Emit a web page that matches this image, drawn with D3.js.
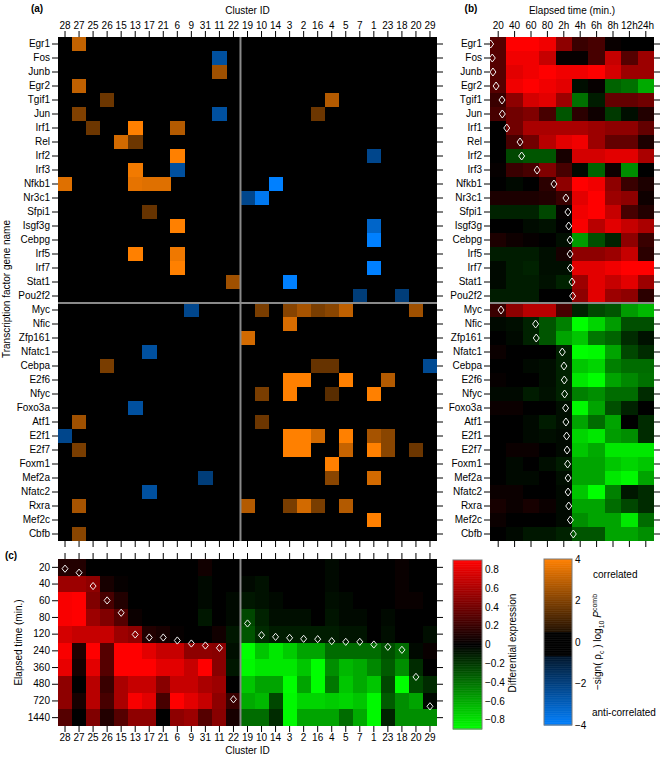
<!DOCTYPE html>
<html><head><meta charset="utf-8">
<script src="https://cdn.jsdelivr.net/npm/d3@7"></script>
<style>
body{margin:0;background:#fff}
text{font-family:"Liberation Sans",Arial,Helvetica,sans-serif;font-size:10px;fill:#000}
</style>
</head><body>
<svg id="chart" width="662" height="757"></svg>
<script>
// ---------------- DATA ----------------
const clusters = ["28","27","25","26","15","13","17","21","6","9","31","11","22","19","10","14","3","2","16","4","5","7","1","23","18","20","29"];
const tfs = ["Egr1","Fos","Junb","Egr2","Tgif1","Jun","Irf1","Rel","Irf2","Irf3","Nfkb1","Nr3c1","Sfpi1","Isgf3g","Cebpg","Irf5","Irf7","Stat1","Pou2f2",
             "Myc","Nfic","Zfp161","Nfatc1","Cebpa","E2f6","Nfyc","Foxo3a","Atf1","E2f1","E2f7","Foxm1","Mef2a","Nfatc2","Rxra","Mef2c","Cbfb"];
const timeLabelsB = ["20","40","60","80","2h","4h","6h","8h","12h","24h"];
const timeLabelsC = ["20","40","60","80","120","240","360","480","720","1440"];
const exprTicks = [0.8,0.6,0.4,0.2,0,-0.2,-0.4,-0.6,-0.8];
const assocTicks = [4,2,0,-2,-4];

// (a) association: [TF, cluster, -sign(rho) log10 P]
const assocCells = [
 ["Egr1","27",3.05],["Fos","11",-2.5],["Junb","11",2.5],["Egr2","27",3.0],
 ["Tgif1","26",1.7],["Tgif1","4",2.8],
 ["Jun","27",2.0],["Jun","11",-2.5],["Jun","16",1.7],
 ["Irf1","25",1.7],["Irf1","13",4.0],["Irf1","6",2.8],
 ["Rel","15",3.3],["Rel","13",1.7],
 ["Irf2","6",4.0],["Irf2","1",-2.2],
 ["Irf3","13",3.8],["Irf3","6",-2.5],
 ["Nfkb1","28",3.5],["Nfkb1","13",3.6],["Nfkb1","17",3.5],["Nfkb1","21",3.5],["Nfkb1","14",-4.0],
 ["Nr3c1","19",-2.2],["Nr3c1","10",-3.75],
 ["Sfpi1","17",1.6],
 ["Isgf3g","6",4.0],["Isgf3g","1",-3.15],
 ["Cebpg","1",-4.0],
 ["Irf5","13",4.0],["Irf5","6",3.75],
 ["Irf7","6",4.0],["Irf7","1",-4.0],
 ["Stat1","22",2.5],["Stat1","3",-4.0],
 ["Pou2f2","7",-1.9],["Pou2f2","18",-1.9],
 ["Myc","9",-2.2],["Myc","10",1.9],["Myc","3",2.1],["Myc","2",2.6],["Myc","16",1.9],["Myc","4",2.15],["Myc","5",3.0],["Myc","20",2.5],
 ["Nfic","3",3.4],
 ["Zfp161","19",3.3],
 ["Nfatc1","17",-2.5],
 ["Cebpa","26",1.9],["Cebpa","16",1.6],["Cebpa","4",1.6],["Cebpa","29",-2.3],
 ["E2f6","3",4.0],["E2f6","2",4.0],["E2f6","5",4.0],["E2f6","23",2.8],
 ["Nfyc","10",1.9],["Nfyc","3",4.0],["Nfyc","4",1.4],["Nfyc","1",4.0],
 ["Foxo3a","13",-2.5],
 ["Atf1","27",2.5],["Atf1","10",1.7],
 ["E2f1","28",-2.2],["E2f1","3",4.0],["E2f1","2",4.0],["E2f1","16",3.3],["E2f1","5",4.0],["E2f1","1",2.6],["E2f1","23",2.15],
 ["E2f7","27",1.9],["E2f7","3",4.0],["E2f7","2",4.0],["E2f7","5",3.1],["E2f7","1",4.0],["E2f7","23",2.15],["E2f7","20",1.7],
 ["Foxm1","4",4.0],
 ["Mef2a","31",-1.9],["Mef2a","4",2.15],["Mef2a","1",3.3],
 ["Nfatc2","17",-2.5],
 ["Rxra","27",2.6],["Rxra","19",2.8],["Rxra","3",1.9],["Rxra","2",3.3],["Rxra","16",1.9],["Rxra","5",2.8],
 ["Mef2c","1",4.0],
 ["Cbfb","27",2.15]
];

// (b) differential expression of each TF over time (rows follow tfs)
const exprByTF = [
 [0.30,0.90,0.90,0.85,0.50,0.20,0.25,0.03,0.00,0.00],
 [0.30,0.85,0.85,0.70,0.02,0.02,0.25,0.70,0.30,0.55],
 [0.30,0.80,0.85,0.90,0.85,0.85,0.90,0.75,0.55,0.55],
 [0.30,0.85,0.90,0.85,0.80,-0.05,0.02,-0.35,-0.40,-0.60],
 [0.20,0.50,0.75,0.80,0.55,-0.40,-0.10,0.35,0.35,0.40],
 [0.25,0.40,0.45,0.25,-0.30,0.15,0.05,-0.20,-0.05,0.12],
 [0.00,0.40,0.60,0.60,0.60,0.60,0.55,0.50,0.50,0.35],
 [0.00,0.25,0.40,0.65,0.80,0.85,0.55,0.35,0.35,0.10],
 [0.00,-0.25,-0.30,-0.30,0.08,0.75,0.75,0.80,0.80,0.60],
 [0.02,0.20,0.25,0.45,0.25,-0.03,-0.35,0.05,-0.50,0.00],
 [0.00,-0.03,0.00,0.15,0.50,0.90,0.85,0.50,0.20,0.10],
 [0.10,0.10,0.10,0.12,0.20,0.80,0.90,0.55,0.50,0.05],
 [-0.12,-0.12,-0.12,-0.25,0.02,0.85,0.90,0.70,0.25,0.12],
 [0.00,0.00,-0.04,-0.06,0.00,0.88,0.65,0.80,0.70,0.60],
 [0.10,0.05,0.02,0.00,-0.05,-0.55,-0.28,-0.12,0.50,0.20],
 [-0.10,-0.10,-0.10,-0.05,0.08,0.50,0.50,0.55,0.70,0.15],
 [-0.03,-0.10,-0.12,-0.05,-0.05,0.80,0.80,0.85,0.90,0.90],
 [-0.03,-0.10,-0.10,-0.06,-0.12,0.55,0.80,0.70,0.80,0.55],
 [-0.10,-0.10,-0.10,0.00,0.00,0.50,0.80,0.55,0.50,0.15],
 [0.20,0.50,0.65,0.65,0.25,-0.12,-0.25,-0.30,-0.55,-0.65],
 [-0.03,-0.05,-0.12,-0.30,-0.45,-0.90,-0.75,-0.55,-0.28,-0.28],
 [0.00,-0.03,-0.12,-0.30,-0.58,-0.70,-0.42,-0.35,-0.15,-0.06],
 [0.04,0.00,0.00,0.00,-0.12,-0.90,-0.88,-0.58,-0.25,-0.15],
 [0.00,0.00,-0.03,-0.05,-0.12,-0.70,-0.75,-0.45,-0.38,-0.38],
 [0.02,0.00,0.00,-0.05,-0.12,-0.82,-0.90,-0.58,-0.48,-0.40],
 [-0.03,-0.03,-0.10,-0.06,-0.12,-0.45,-0.50,-0.38,-0.38,-0.15],
 [0.04,0.04,0.00,0.00,-0.05,-0.88,-0.58,-0.28,-0.12,0.00],
 [0.00,0.00,-0.03,-0.10,-0.05,-0.58,-0.38,-0.58,0.00,-0.15],
 [0.00,0.00,-0.03,-0.05,-0.03,-0.75,-0.82,-0.55,-0.50,-0.15],
 [0.00,0.04,0.04,0.00,-0.03,-0.70,-0.60,-0.82,-0.82,-0.82],
 [0.00,-0.03,0.00,-0.05,-0.10,-0.58,-0.58,-0.70,-0.75,-0.70],
 [0.00,-0.03,-0.03,0.00,-0.05,-0.58,-0.58,-0.82,-0.88,-0.58],
 [0.04,0.04,0.00,0.00,-0.03,-0.70,-0.90,-0.45,-0.08,-0.15],
 [0.08,0.04,0.08,0.04,-0.03,-0.58,-0.58,-0.38,-0.25,-0.15],
 [0.04,0.00,0.00,0.00,-0.03,-0.50,-0.58,-0.58,-0.82,-0.38],
 [0.00,-0.03,-0.08,-0.08,-0.12,-0.30,-0.30,-0.58,-0.58,-0.50]
];
// onset time of each TF, in units of time-column index
const onsetByTF = [0.04,0.14,0.18,0.37,0.73,0.75,1.02,1.83,1.93,2.87,3.90,4.63,4.75,4.80,4.88,4.88,4.90,5.00,5.04,
                   0.67,2.78,2.82,4.41,4.51,4.53,4.55,4.61,4.63,4.67,4.70,4.73,4.76,4.76,4.80,4.90,5.08];

// (c) differential expression of each cluster over time (one array per cluster, rows follow timeLabelsC)
const exprByCluster = [
 [0.12,0.55,0.88,0.88,0.75,0.88,0.82,0.50,0.50,0.30],
 [0.12,0.55,0.90,0.90,0.70,0.12,0.08,0.00,0.08,0.00],
 [0.00,0.50,0.45,0.55,0.70,0.90,0.80,0.65,0.65,0.45],
 [0.00,0.08,0.25,0.45,0.70,0.30,0.30,0.20,0.25,0.12],
 [0.00,0.02,0.12,0.30,0.55,0.90,0.90,0.60,0.60,0.30],
 [0.00,0.00,0.00,0.04,0.50,0.90,0.90,0.70,0.88,0.50],
 [0.00,0.00,0.00,0.00,0.12,0.80,0.90,0.70,0.80,0.50],
 [0.00,0.00,0.00,0.00,0.08,0.70,0.80,0.48,0.25,0.00],
 [0.00,0.00,0.00,0.00,0.02,0.70,0.80,0.70,0.90,0.50],
 [0.00,0.00,0.00,0.00,0.00,0.50,0.70,0.70,0.80,0.55],
 [0.06,-0.03,-0.03,-0.08,0.00,0.50,0.90,0.60,0.70,0.30],
 [0.00,0.00,0.00,0.00,0.06,0.48,0.48,0.55,0.50,0.48],
 [0.00,0.00,-0.03,-0.03,-0.08,-0.05,-0.08,0.00,0.20,0.08],
 [0.00,-0.03,-0.08,-0.25,-0.30,-0.90,-0.88,-0.70,-0.60,-0.38],
 [0.00,-0.06,-0.06,-0.12,-0.15,-0.70,-0.82,-0.58,-0.65,-0.38],
 [0.00,0.00,-0.03,-0.05,-0.10,-0.82,-0.82,-0.58,-0.25,-0.15],
 [0.00,0.00,0.00,-0.05,-0.10,-0.72,-0.82,-0.90,-0.88,-0.88],
 [0.00,0.00,0.00,-0.05,-0.10,-0.58,-0.70,-0.58,-0.75,-0.58],
 [0.00,0.00,0.00,0.00,-0.10,-0.58,-0.90,-0.90,-0.75,-0.58],
 [-0.03,-0.03,-0.05,-0.07,-0.10,-0.38,-0.50,-0.42,-0.72,-0.58],
 [0.00,0.00,-0.03,-0.03,-0.07,-0.38,-0.65,-0.70,-0.75,-0.38],
 [0.00,0.00,0.00,-0.03,-0.07,-0.38,-0.60,-0.60,-0.70,-0.60],
 [0.00,0.00,0.00,0.00,0.00,-0.38,-0.48,-0.70,-0.88,-0.88],
 [0.00,0.00,0.00,-0.03,-0.05,-0.28,-0.32,-0.25,-0.32,-0.12],
 [0.03,0.03,0.03,0.00,0.00,-0.38,-0.50,-0.90,-0.50,-0.50],
 [0.00,0.00,0.03,0.00,0.00,-0.03,-0.15,-0.25,-0.58,-0.50],
 [0.00,0.00,0.00,0.00,-0.05,0.03,0.00,-0.15,-0.03,-0.50]
];
// onset time of each cluster, in units of time-row index
const onsetByCluster = [0.58,0.82,1.62,2.48,3.22,4.52,4.70,4.70,4.88,5.06,5.18,5.32,8.40,
                        3.86,4.56,4.66,4.72,4.78,4.80,4.92,4.96,4.96,5.12,5.26,5.44,7.06,8.82];

// ---------------- COLOURS ----------------
const exprColor = d3.scaleLinear().domain([-0.9,0,0.9]).range(["#00ff00","#000000","#ff0000"]).clamp(true);
const posRamp = d3.interpolateRgb("#000000","#ff8000");
const negRamp = d3.interpolateRgb("#000000","#0080ff");
function assocColor(v){
  if (v >= 0.5) return posRamp(Math.min(v,4)/4);
  if (v <= -0.67) return negRamp(Math.min(-v,4)/4);
  return "#000000";
}

// ---------------- LAYOUT ----------------
const svg = d3.select("#chart");
svg.append("rect").attr("width",662).attr("height",757).attr("fill","#fff");

const xA = d3.scaleBand().domain(clusters).range([58,437]);
const yA = d3.scaleBand().domain(tfs).range([37,541]);
const xB = d3.scaleBand().domain(timeLabelsB).range([490,654]);
const yC = d3.scaleBand().domain(timeLabelsC).range([559,726]);
const xBpos = d3.scaleLinear().domain([0,timeLabelsB.length]).range(xB.range());
const yCpos = d3.scaleLinear().domain([0,timeLabelsC.length]).range(yC.range());
const sepCluster = "19", sepTF = "Myc";
const gray = "#8a8a8a";

function styleAxis(g){
  g.select(".domain").remove();
  g.selectAll(".tick line").attr("stroke","#000");
  g.selectAll("text").style("font-size","10px").attr("fill","#000");
}
function diamond(cx, cy, w, h){
  return `M${cx},${cy-h}L${cx+w},${cy}L${cx},${cy+h}L${cx-w},${cy}Z`;
}

// ---- panel (a)
const gA = svg.append("g");
gA.append("rect").attr("x",xA.range()[0]).attr("y",yA.range()[0])
  .attr("width",xA.range()[1]-xA.range()[0]).attr("height",yA.range()[1]-yA.range()[0]).attr("fill","#000");
gA.selectAll("rect.cell").data(assocCells).join("rect").attr("class","cell")
  .attr("x",d=>xA(d[1])).attr("y",d=>yA(d[0]))
  .attr("width",xA.bandwidth()+0.3).attr("height",yA.bandwidth()+0.3)
  .attr("fill",d=>assocColor(d[2])).attr("shape-rendering","crispEdges");
gA.append("line").attr("x1",xA(sepCluster)).attr("x2",xA(sepCluster))
  .attr("y1",yA.range()[0]).attr("y2",yA.range()[1]).attr("stroke",gray).attr("stroke-width",2);

gA.append("g").attr("transform",`translate(0,${yA.range()[0]})`)
  .call(d3.axisTop(xA).tickSize(6).tickPadding(2)).call(styleAxis);
gA.append("g").attr("transform",`translate(0,${yA.range()[1]})`)
  .call(d3.axisBottom(xA).tickSize(6).tickFormat("")).call(styleAxis);
gA.append("g").attr("transform",`translate(${xA.range()[0]},0)`)
  .call(d3.axisLeft(yA).tickSize(6).tickPadding(2)).call(styleAxis);
gA.append("g").attr("transform",`translate(${xA.range()[1]},0)`)
  .call(d3.axisRight(yA).tickSize(6).tickFormat("")).call(styleAxis);

// ---- panel (b)
const gB = svg.append("g");
const cellsB = [];
tfs.forEach((tf,i)=>timeLabelsB.forEach((t,j)=>cellsB.push({tf,t,v:exprByTF[i][j]})));
gB.selectAll("rect").data(cellsB).join("rect")
  .attr("x",d=>xB(d.t)).attr("y",d=>yA(d.tf))
  .attr("width",xB.bandwidth()+0.3).attr("height",yA.bandwidth()+0.3)
  .attr("fill",d=>exprColor(d.v)).attr("shape-rendering","crispEdges");
gB.selectAll("path.dia").data(tfs).join("path").attr("class","dia")
  .attr("d",(tf,i)=>diamond(xBpos(onsetByTF[i]), yA(tf)+yA.bandwidth()/2, 3, 4))
  .attr("fill","none").attr("stroke","#f2f2f2").attr("stroke-width",1);

gB.append("g").attr("transform",`translate(0,${yA.range()[0]})`)
  .call(d3.axisTop(xB).tickSize(6).tickPadding(2)).call(styleAxis);
gB.append("g").attr("transform",`translate(0,${yA.range()[1]})`)
  .call(d3.axisBottom(xB).tickSize(6).tickFormat("")).call(styleAxis);
gB.append("g").attr("transform",`translate(${xB.range()[0]},0)`)
  .call(d3.axisLeft(yA).tickSize(6).tickPadding(2)).call(styleAxis);
gB.append("g").attr("transform",`translate(${xB.range()[1]},0)`)
  .call(d3.axisRight(yA).tickSize(6).tickFormat("")).call(styleAxis);

// horizontal separator across (a) and (b)
[[xA.range()[0],xA.range()[1]],[xB.range()[0],xB.range()[1]]].forEach(r=>{
  svg.append("line").attr("x1",r[0]).attr("x2",r[1]).attr("y1",yA(sepTF)).attr("y2",yA(sepTF))
    .attr("stroke",gray).attr("stroke-width",2);
});

// ---- panel (c)
const gC = svg.append("g");
const cellsC = [];
clusters.forEach((c,i)=>timeLabelsC.forEach((t,j)=>cellsC.push({c,t,v:exprByCluster[i][j]})));
gC.selectAll("rect").data(cellsC).join("rect")
  .attr("x",d=>xA(d.c)).attr("y",d=>yC(d.t))
  .attr("width",xA.bandwidth()+0.3).attr("height",yC.bandwidth()+0.3)
  .attr("fill",d=>exprColor(d.v)).attr("shape-rendering","crispEdges");
gC.append("line").attr("x1",xA(sepCluster)).attr("x2",xA(sepCluster))
  .attr("y1",yC.range()[0]).attr("y2",yC.range()[1]).attr("stroke",gray).attr("stroke-width",2);
gC.selectAll("path.dia").data(clusters).join("path").attr("class","dia")
  .attr("d",(c,i)=>diamond(xA(c)+xA.bandwidth()/2, yCpos(onsetByCluster[i]), 3, 3.6))
  .attr("fill","none").attr("stroke","#f2f2f2").attr("stroke-width",1);

gC.append("g").attr("transform",`translate(0,${yC.range()[0]})`)
  .call(d3.axisTop(xA).tickSize(6).tickFormat("")).call(styleAxis);
gC.append("g").attr("transform",`translate(0,${yC.range()[1]})`)
  .call(d3.axisBottom(xA).tickSize(6).tickPadding(2)).call(styleAxis);
gC.append("g").attr("transform",`translate(${xA.range()[0]},0)`)
  .call(d3.axisLeft(yC).tickSize(6).tickPadding(2)).call(styleAxis);
gC.append("g").attr("transform",`translate(${xA.range()[1]},0)`)
  .call(d3.axisRight(yC).tickSize(6).tickFormat("")).call(styleAxis);

// ---- colour bars
function colourBar(x0,x1,y0,y1,domain,colorFn,ticks,fmt){
  const sc = d3.scaleLinear().domain(domain).range([y1,y0]);
  const n = 240, vals = d3.range(n).map(k=>domain[0]+(domain[1]-domain[0])*(k+0.5)/n);
  const step = (domain[1]-domain[0])/n;
  const g = svg.append("g");
  g.selectAll("rect").data(vals).join("rect")
    .attr("x",x0).attr("width",x1-x0)
    .attr("y",v=>sc(v+step/2)).attr("height",v=>sc(v-step/2)-sc(v+step/2)+0.5)
    .attr("fill",colorFn);
  g.append("rect").attr("x",x0).attr("y",y0).attr("width",x1-x0).attr("height",y1-y0)
    .attr("fill","none").attr("stroke","#7a7a7a").attr("stroke-width",1);
  g.append("g").attr("transform",`translate(${x1},0)`)
    .call(d3.axisRight(sc).tickValues(ticks).tickSize(0).tickPadding(3).tickFormat(fmt)).call(styleAxis);
  return sc;
}
colourBar(453,482,560,729,[-0.9,0.9],exprColor,exprTicks,d=>d===0?"0":d3.format(".1f")(d));
colourBar(544,572,559,725,[-4,4],assocColor,assocTicks,d3.format("d"));

// ---- texts
function txt(x,y,s,opts={}){
  const t = svg.append("text").attr("x",x).attr("y",y).text(s)
    .attr("text-anchor",opts.anchor||"middle");
  if (opts.bold) t.style("font-weight","bold");
  if (opts.rotate) t.attr("transform",`rotate(-90,${x},${y})`);
  return t;
}
txt(37,12,"(a)",{bold:true});
txt(471,12,"(b)",{bold:true});
txt(11,559,"(c)",{bold:true});
txt((xA.range()[0]+xA.range()[1])/2,13.5,"Cluster ID");
txt((xB.range()[0]+xB.range()[1])/2,13.5,"Elapsed time (min.)");
txt((xA.range()[0]+xA.range()[1])/2,754,"Cluster ID");
txt(10,(yA.range()[0]+yA.range()[1])/2,"Transcription factor gene name",{rotate:true});
txt(22,(yC.range()[0]+yC.range()[1])/2,"Elapsed time (min.)",{rotate:true});
txt(516,643,"Differential expression",{rotate:true});
txt(593,578,"correlated",{anchor:"start"});
txt(592,716,"anti-correlated",{anchor:"start"});
// axis title of association colour bar
const at = svg.append("text").attr("x",601).attr("y",642).attr("text-anchor","middle")
  .attr("transform","rotate(-90,601,642)");
at.append("tspan").text("\u2212sign( \u03c1");
at.append("tspan").attr("dy",3).style("font-size","7px").text("c");
at.append("tspan").attr("dy",-3).text(" ) log");
at.append("tspan").attr("dy",3).style("font-size","7px").text("10");
at.append("tspan").attr("dy",-3).text(" ");
at.append("tspan").style("font-style","italic").text("P");
at.append("tspan").attr("dy",-4).style("font-size","7px").text("comb");
</script>
</body></html>
